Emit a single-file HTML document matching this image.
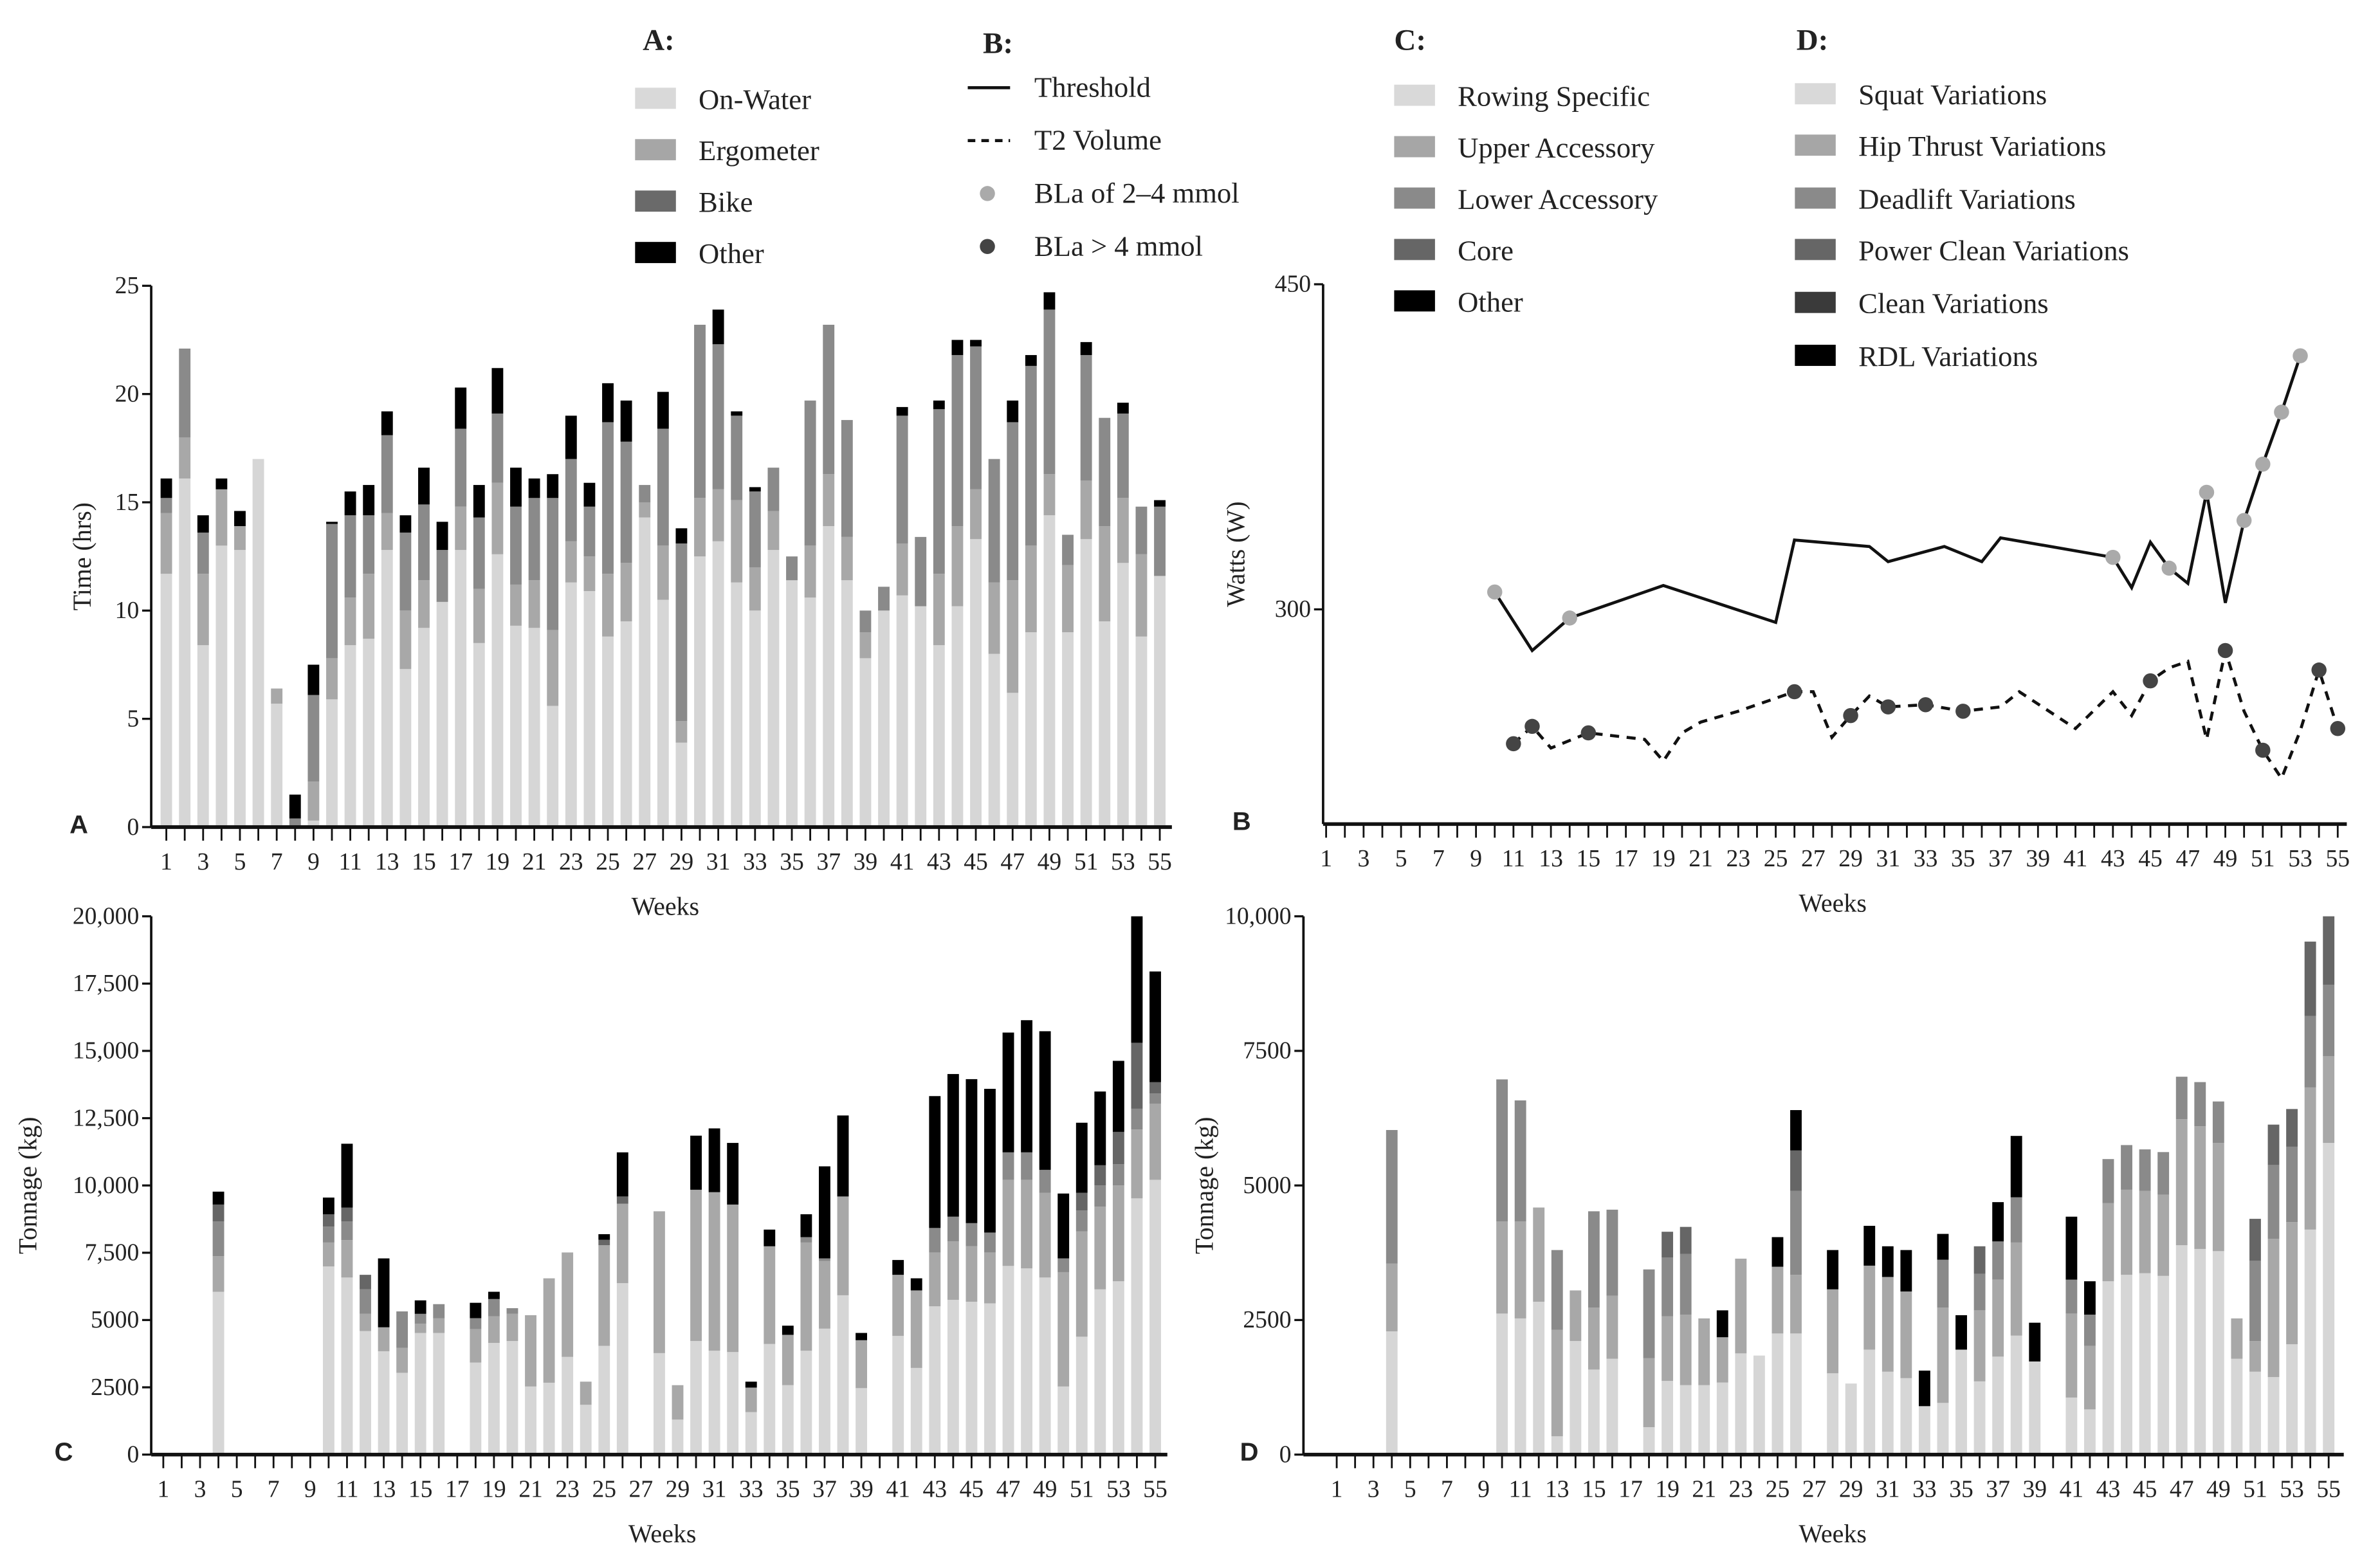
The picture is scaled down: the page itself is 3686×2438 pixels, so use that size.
<!DOCTYPE html>
<html><head><meta charset="utf-8"><style>
html,body{margin:0;padding:0;background:#fff;}
svg{display:block;font-family:"Liberation Serif",serif;}
svg text{font-family:"Liberation Serif",serif;fill:#222;}
svg text.lbl{font-family:"Liberation Sans",sans-serif;font-weight:bold;}
</style></head>
<body>
<svg id="fig" xmlns="http://www.w3.org/2000/svg" width="3686" height="2438" viewBox="0 0 1568 1037" preserveAspectRatio="none" font-family="Liberation Serif, serif">
<g id="legends" font-size="19">
 <g>
  <text x="425" y="33" font-weight="bold" font-size="20">A:</text>
  <rect x="420" y="58" width="27" height="14" fill="#d9d9d9"/><text x="462" y="72">On-Water</text>
  <rect x="420" y="92" width="27" height="14" fill="#a6a6a6"/><text x="462" y="106">Ergometer</text>
  <rect x="420" y="126" width="27" height="14" fill="#6a6a6a"/><text x="462" y="140">Bike</text>
  <rect x="420" y="160" width="27" height="14" fill="#000"/><text x="462" y="174">Other</text>
 </g>
 <g>
  <text x="650" y="35" font-weight="bold" font-size="20">B:</text>
  <line x1="640" y1="58" x2="668" y2="58" stroke="#111" stroke-width="2"/><text x="684" y="64">Threshold</text>
  <line x1="640" y1="93" x2="668" y2="93" stroke="#111" stroke-width="2" stroke-dasharray="5,4"/><text x="684" y="99">T2 Volume</text>
  <circle cx="653" cy="128" r="5" fill="#aaa"/><text x="684" y="134">BLa of 2–4 mmol</text>
  <circle cx="653" cy="163" r="5" fill="#444"/><text x="684" y="169">BLa  &gt; 4 mmol</text>
 </g>
 <g>
  <text x="922" y="33" font-weight="bold" font-size="20">C:</text>
  <rect x="922" y="56" width="27" height="14" fill="#d9d9d9"/><text x="964" y="70">Rowing Specific</text>
  <rect x="922" y="90" width="27" height="14" fill="#a6a6a6"/><text x="964" y="104">Upper Accessory</text>
  <rect x="922" y="124" width="27" height="14" fill="#8a8a8a"/><text x="964" y="138">Lower Accessory</text>
  <rect x="922" y="158" width="27" height="14" fill="#666"/><text x="964" y="172">Core</text>
  <rect x="922" y="192" width="27" height="14" fill="#000"/><text x="964" y="206">Other</text>
 </g>
 <g>
  <text x="1188" y="33" font-weight="bold" font-size="20">D:</text>
  <rect x="1187" y="55" width="27" height="14" fill="#d9d9d9"/><text x="1229" y="69">Squat Variations</text>
  <rect x="1187" y="89" width="27" height="14" fill="#a6a6a6"/><text x="1229" y="103">Hip Thrust Variations</text>
  <rect x="1187" y="124" width="27" height="14" fill="#8a8a8a"/><text x="1229" y="138">Deadlift Variations</text>
  <rect x="1187" y="158" width="27" height="14" fill="#666"/><text x="1229" y="172">Power Clean Variations</text>
  <rect x="1187" y="193" width="27" height="14" fill="#3a3a3a"/><text x="1229" y="207">Clean Variations</text>
  <rect x="1187" y="228" width="27" height="14" fill="#000"/><text x="1229" y="242">RDL Variations</text>
 </g>
</g>
<g id="pa"></g>
<g id="pb"></g>
<g id="pc"></g>
<g id="pd"></g>
</svg>
<script>
// ---------- Panel A data (hours) ----------
const aWeeks = [1,2,3,4,5,6,7,8,9,10,11,12,13,14,15,16,17,18,19,20,21,22,23,24,25,26,27,28,29,30,31,32,33,34,35,36,37,38,39,40,41,42,43,44,45,46,47,48,49,50,51,52,53,54,55];
const aOnWater = [11.7,16.1,8.4,13.0,12.8,17.0,5.7,0,0.3,5.9,8.4,8.7,12.8,7.3,9.2,10.4,12.8,8.5,12.6,9.3,9.2,5.6,11.3,10.9,8.8,9.5,14.3,10.5,3.9,12.5,13.2,11.3,10.0,12.8,11.4,10.6,13.9,11.4,7.8,10.0,10.7,10.2,8.4,10.2,13.3,8.0,6.2,9.0,14.4,9.0,13.3,9.5,12.2,8.8,11.6];
const aErgometer = [2.8,1.9,3.3,2.6,1.1,0,0.7,0,1.8,1.9,2.2,3.0,1.7,2.7,2.2,0,2.0,2.5,3.3,1.9,2.2,3.5,1.9,1.6,2.9,2.7,0.7,2.5,1.0,2.7,2.4,3.8,2.0,1.8,0,2.4,2.4,2.0,1.2,0,2.4,0,3.3,3.7,2.3,3.3,5.2,4.0,1.9,3.1,2.7,4.4,3.0,3.8,0];
const aBike = [0.7,4.1,1.9,0,0,0,0,0.4,4.0,6.2,3.8,2.7,3.6,3.6,3.5,2.4,3.6,3.3,3.2,3.6,3.8,6.1,3.8,2.3,7.0,5.6,0.8,5.4,8.2,8.0,6.7,3.9,3.5,2.0,1.1,6.7,6.9,5.4,1.0,1.1,5.9,3.2,7.6,7.9,6.6,5.7,7.3,8.3,7.6,1.4,5.8,5.0,3.9,2.2,3.2];
const aOther = [0.9,0,0.8,0.5,0.7,0,0,1.1,1.4,0.1,1.1,1.4,1.1,0.8,1.7,1.3,1.9,1.5,2.1,1.8,0.9,1.1,2.0,1.1,1.8,1.9,0,1.7,0.7,0,1.6,0.2,0.2,0,0,0,0,0,0,0,0.4,0,0.4,0.7,0.3,0,1.0,0.5,0.8,0,0.6,0,0.5,0,0.3];
const aTicks = [0,5,10,15,20,25];

// ---------- Panel B data (watts) ----------
const thrWeeks = [10,12,14,19,25,26,30,31,34,36,37,43,44,45,46,47,48,49,50,51,52,53];
const thrWatts = [308,281,296,311,294,332,329,322,329,322,333,324,310,331,319,312,354,303,341,367,391,417];
const thrDots = [10,14,43,46,48,50,51,52,53];
const t2Weeks = [11,12,13,15,18,19,20,21,23,26,27,28,29,30,31,33,35,37,38,41,43,44,45,46,47,48,49,50,51,52,53,54,55];
const t2Watts = [238,246,236,243,240,230,243,248,253,262,262,241,251,260,255,256,253,255,262,245,262,251,267,273,276,240,281,253,235,222,244,272,245];
const t2Dots = [11,12,15,26,29,31,33,35,45,49,51,54,55];
const bTicks = [300,450];

// ---------- Panel C data (thousand kg) ----------
const cWeeks = [4,10,11,12,13,14,15,16,18,19,20,21,22,23,24,25,26,28,29,30,31,32,33,34,35,36,37,38,39,41,42,43,44,45,46,47,48,49,50,51,52,53,54,55];
const cRowing = [6.05,6.99,6.58,4.59,3.84,3.04,4.52,4.52,3.42,4.15,4.22,2.53,2.67,3.63,1.85,4.04,6.37,3.77,1.30,4.22,3.86,3.81,1.58,4.11,2.58,3.86,4.68,5.92,2.47,4.41,3.22,5.51,5.75,5.68,5.62,7.01,6.92,6.58,2.53,4.38,6.14,6.44,9.52,10.21];
const cUpper = [1.32,0.89,1.39,0.64,0.89,0.93,0.34,0.55,1.24,0.99,1.01,2.65,3.88,3.88,0.86,3.74,2.95,5.27,1.28,5.62,5.89,5.48,0.91,3.63,1.87,4.02,2.51,3.67,1.78,2.27,2.88,2.00,2.17,2.06,1.89,3.20,3.29,3.15,4.25,3.91,3.07,3.56,2.56,2.83];
const cLower = [1.29,0.59,0.69,0.91,0,1.35,0.37,0.52,0.41,0.64,0.21,0,0,0,0,0,0,0,0,0,0,0,0,0,0,0.20,0.10,0,0,0,0,0.91,0.92,0.86,0.74,1.02,1.02,0.85,0.51,0.78,0.79,0.79,0.77,0.38];
const cCore = [0.63,0.46,0.52,0.54,0,0,0,0,0,0,0,0,0,0,0,0.20,0.27,0,0,0,0,0,0,0,0,0,0,0,0,0,0,0,0,0,0,0,0,0,0,0.66,0.75,1.20,2.45,0.42];
const cOther = [0.48,0.62,2.37,0,2.56,0,0.50,0,0.57,0.27,0,0,0,0,0,0.21,1.64,0,0,2.01,2.37,2.29,0.22,0.62,0.34,0.85,3.42,3.01,0.27,0.55,0.45,4.90,5.30,5.35,5.34,4.45,4.91,5.15,2.41,2.60,2.74,2.64,4.70,4.11];
const cTicks = [0,2.5,5,7.5,10,12.5,15,17.5,20];
const cTickLabels = ["0","2500","5000","7,500","10,000","12,500","15,000","17,500","20,000"];

// ---------- Panel D data (thousand kg) ----------
const dWeeks = [4,10,11,12,13,14,15,16,18,19,20,21,22,23,24,25,26,28,29,30,31,32,33,34,35,36,37,38,39,41,42,43,44,45,46,47,48,49,50,51,52,53,54,55];
const dSquat = [2.29,2.62,2.53,2.84,0.34,2.11,1.58,1.78,0.51,1.37,1.29,1.29,1.34,1.88,1.84,2.25,2.25,1.51,1.32,1.95,1.54,1.42,0.90,0.96,1.95,1.36,1.82,2.21,1.73,1.06,0.84,3.22,3.34,3.37,3.32,3.89,3.82,3.78,1.78,1.54,1.44,2.05,4.18,5.79];
const dHip = [1.26,1.71,1.80,1.75,1.98,0.94,1.15,1.17,1.28,1.20,1.31,1.24,0.84,1.76,0,1.24,1.09,1.56,0,1.56,1.76,1.61,0,1.77,0,1.32,1.43,1.73,0,1.56,1.18,1.45,1.58,1.53,1.51,2.34,2.28,2.01,0.75,0.57,2.57,2.27,2.64,1.61];
const dDead = [2.48,2.64,2.25,0,1.48,0,1.79,1.60,1.65,1.09,1.13,0,0,0,0,0,1.56,0,0,0,0,0,0,0.89,0,0.68,0.71,0.84,0,0.63,0.58,0.82,0.83,0.77,0.79,0.79,0.82,0.77,0,1.49,1.37,1.40,1.33,1.33];
const dPower = [0,0,0,0,0,0,0,0,0,0.48,0.50,0,0,0,0,0,0.75,0,0,0,0,0,0,0,0,0.51,0,0,0,0,0,0,0,0,0,0,0,0,0,0.78,0.75,0.70,1.38,1.27];
const dClean = [0,0,0,0,0,0,0,0,0,0,0,0,0,0,0,0,0,0,0,0,0,0,0,0,0,0,0,0,0,0,0,0,0,0,0,0,0,0,0,0,0,0,0,0];
const dRdl = [0,0,0,0,0,0,0,0,0,0,0,0,0.50,0,0,0.55,0.75,0.73,0,0.74,0.57,0.77,0.66,0.48,0.64,0,0.73,1.14,0.72,1.17,0.62,0,0,0,0,0,0,0,0,0,0,0,0,0];
const dTicks = [0,2.5,5,7.5,10];
const dTickLabels = ["0","2500","5000","7500","10,000"];

const NS = "http://www.w3.org/2000/svg";
function mk(parent, tag, attrs, txt){
  const e = document.createElementNS(NS, tag);
  for (const k in attrs) e.setAttribute(k, attrs[k]);
  if (txt !== undefined) e.textContent = txt;
  parent.appendChild(e);
  return e;
}
function lin(d0,d1,r0,r1){ return v => r0 + (v-d0)*(r1-r0)/(d1-d0); }

function axes(g, cfg){
  const {x0,x1,yTop,yBot,xs,ys,ticks,labels,title,titleX,letter,letterX,weeksX,weeksY,labelY} = cfg;
  const ya = mk(g,'line',{x1:x0,y1:yTop,x2:x0,y2:yBot,stroke:'#111','stroke-width':1.6});
  
  
  const xa = mk(g,'line',{x1:x0,y1:yBot,x2:x1,y2:yBot,stroke:'#111','stroke-width':2.4});
  
  
  ticks.forEach((t,i)=>{
    const y = ys(t);
    mk(g,'line',{x1:x0-6,y1:y,x2:x0,y2:y,stroke:'#111','stroke-width':1.4});
    const tl = mk(g,'text',{x:x0-8,y:y+5,'text-anchor':'end','font-size':16},labels[i]);
    
    
  });
  for (let w=1; w<=55; w++){
    const x = xs(w);
    mk(g,'line',{x1:x,y1:yBot,x2:x,y2:yBot+9,stroke:'#111','stroke-width':1.2});
    if (w%2===1){
      const xl = mk(g,'text',{x:x,y:labelY,'text-anchor':'middle','font-size':16},String(w));
      
      
    }
  }
  const cy = (yTop+yBot)/2;
  const tt = mk(g,'text',{x:titleX,y:cy,'text-anchor':'middle','font-size':17,transform:`rotate(-90 ${titleX} ${cy})`},title);
  
  
  const wt = mk(g,'text',{x:weeksX,y:weeksY,'text-anchor':'middle','font-size':17},'Weeks');
  
  
  const lt = mk(g,'text',{x:letterX,y:yBot+4,'font-size':17,class:'lbl'},letter);
  
  
}

function stacked(g, weeks, series, colors, xs, ys, bw, name){
  weeks.forEach((w,i)=>{
    let acc = 0;
    series.forEach((s,k)=>{
      const v = s[i];
      if (v<=0) return;
      const y1 = ys(acc), y2 = ys(acc+v);
      const r = mk(g,'rect',{x:xs(w)-bw/2,y:y2,width:bw,height:y1-y2,fill:colors[k]});
      
      
      acc += v;
    });
  });
}

// Panel A
(function(){
  const g = document.getElementById('pa');
  const xs = lin(1,55,110,767), ys = lin(0,25,547,189);
  stacked(g,aWeeks,[aOnWater,aErgometer,aBike,aOther],['#d6d6d6','#a8a8a8','#8a8a8a','#000'],xs,ys,7.6,'time');
  axes(g,{x0:100,x1:775,yTop:189,yBot:547,xs,ys,ticks:aTicks,labels:aTicks.map(String),title:'Time (hrs)',titleX:60,letter:'A',letterX:46,weeksX:440,weeksY:605,labelY:575});
})();

// Panel B
(function(){
  const g = document.getElementById('pb');
  const xs = lin(1,55,877,1546), ys = lin(300,450,403,188);
  axes(g,{x0:875,x1:1552,yTop:188,yBot:545,xs,ys,ticks:bTicks,labels:bTicks.map(String),title:'Watts (W)',titleX:823,letter:'B',letterX:815,weeksX:1212,weeksY:603,labelY:573});
  const p1 = mk(g,'polyline',{points:thrWeeks.map((w,i)=>xs(w)+','+ys(thrWatts[i])).join(' '),fill:'none',stroke:'#111','stroke-width':2});
  
  
  const p2 = mk(g,'polyline',{points:t2Weeks.map((w,i)=>xs(w)+','+ys(t2Watts[i])).join(' '),fill:'none',stroke:'#111','stroke-width':2,'stroke-dasharray':'6,5'});
  
  
  thrDots.forEach(w=>{
    const i = thrWeeks.indexOf(w);
    const c = mk(g,'circle',{cx:xs(w),cy:ys(thrWatts[i]),r:5,fill:'#aaa'});
    
    
  });
  t2Dots.forEach(w=>{
    const i = t2Weeks.indexOf(w);
    const c = mk(g,'circle',{cx:xs(w),cy:ys(t2Watts[i]),r:5,fill:'#444'});
    
    
  });
})();

// Panel C
(function(){
  const g = document.getElementById('pc');
  const xs = lin(1,55,108,764), ys = lin(0,20,962,606);
  stacked(g,cWeeks,[cRowing,cUpper,cLower,cCore,cOther],['#d6d6d6','#a8a8a8','#8a8a8a','#666','#000'],xs,ys,7.6,'tonnage-c');
  axes(g,{x0:100,x1:772,yTop:606,yBot:962,xs,ys,ticks:cTicks,labels:cTickLabels,title:'Tonnage (kg)',titleX:24,letter:'C',letterX:36,weeksX:438,weeksY:1020,labelY:990});
})();

// Panel D
(function(){
  const g = document.getElementById('pd');
  const xs = lin(1,55,884,1540), ys = lin(0,10,962,606);
  stacked(g,dWeeks,[dSquat,dHip,dDead,dPower,dClean,dRdl],['#d6d6d6','#a8a8a8','#8a8a8a','#666','#3a3a3a','#000'],xs,ys,7.6,'tonnage-d');
  axes(g,{x0:862,x1:1550,yTop:606,yBot:962,xs,ys,ticks:dTicks,labels:dTickLabels,title:'Tonnage (kg)',titleX:802,letter:'D',letterX:820,weeksX:1212,weeksY:1020,labelY:990});
})();
</script>
</body></html>
